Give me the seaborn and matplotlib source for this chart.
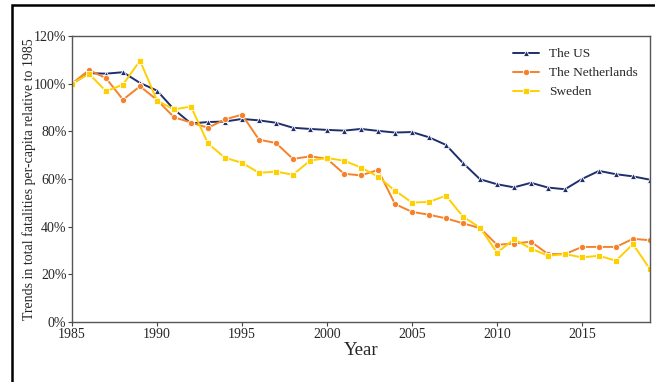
import matplotlib
matplotlib.use("Agg")
import matplotlib.pyplot as plt
from matplotlib.patches import Rectangle
from matplotlib.ticker import PercentFormatter
import numpy as np
import pandas as pd
import seaborn as sns

years = list(range(1985, 2020))

us = [100.0, 104.4, 104.2, 104.8, 100.3, 97.1, 89.2, 83.3, 83.9, 84.1,
      85.2, 84.6, 83.6, 81.5, 81.0, 80.6, 80.3, 81.0, 80.2, 79.5,
      79.7, 77.5, 74.3, 66.7, 59.9, 57.8, 56.5, 58.4, 56.4, 55.7,
      60.0, 63.4, 62.0, 61.1, 59.7]

netherlands = [100.0, 105.7, 102.3, 93.3, 98.9, 93.2, 85.9, 83.7, 81.5, 85.0,
               87.0, 76.5, 75.1, 68.4, 69.5, 68.5, 62.2, 61.5, 63.8, 49.5,
               46.2, 45.0, 43.5, 41.4, 39.4, 32.4, 32.9, 33.7, 28.5, 28.5,
               31.5, 31.5, 31.5, 34.9, 34.3]

sweden = [100.0, 104.2, 96.8, 99.6, 109.7, 92.9, 89.2, 90.4, 74.9, 68.9,
          66.8, 62.6, 63.1, 61.8, 67.7, 68.8, 67.7, 64.8, 61.0, 55.1,
          50.1, 50.4, 53.0, 44.2, 39.6, 29.1, 34.7, 30.8, 27.8, 28.5,
          27.1, 27.8, 25.7, 32.7, 22.1]

countries = ["The US", "The Netherlands", "Sweden"]
colors = ["#1f2f6b", "#f5822a", "#ffd000"]
markers = ["^", "o", "s"]

df = pd.DataFrame({
    "Year": years * 3,
    "Value": us + netherlands + sweden,
    "Country": np.repeat(countries, len(years)),
})

sns.set_style("ticks")
plt.rcParams["font.family"] = ["Liberation Serif", "DejaVu Serif"]

fig = plt.figure(figsize=(6.55, 3.82), dpi=100)
ax = fig.add_axes([72 / 655, 60 / 382, 578 / 655, 286 / 382])

sns.lineplot(
    data=df, x="Year", y="Value", hue="Country", style="Country",
    hue_order=countries, style_order=countries,
    palette=dict(zip(countries, colors)),
    markers=dict(zip(countries, markers)), dashes=False,
    markersize=4.5, markeredgewidth=0.6, linewidth=1.4, ax=ax,
)

ax.set_xlim(1985, 2019)
ax.set_ylim(0, 120)
ax.set_xticks(range(1985, 2020, 5))
ax.set_yticks(range(0, 121, 20))
ax.yaxis.set_major_formatter(PercentFormatter(decimals=0))
ax.tick_params(axis="both", labelsize=10, length=3, width=0.8,
               color="#444444", pad=1)

for side in ["left", "right", "top", "bottom"]:
    ax.spines[side].set_visible(True)
    ax.spines[side].set_color("#555555")
    ax.spines[side].set_linewidth(1.0)

ax.set_xlabel("Year", fontsize=13.5, labelpad=1)
ax.set_ylabel("Trends in total fatalities per-capita relative to 1985",
              fontsize=10)
ax.yaxis.set_label_coords(-0.063, 0.5)

leg = ax.legend(loc="upper right", bbox_to_anchor=(1.0, 1.0), frameon=False,
                fontsize=9.6, handlelength=2.0, labelspacing=0.5,
                handletextpad=0.75)

# outer frame around the figure
frame = Rectangle((12 / 655, -0.1), 1.2, 1.1 - 5 / 382,
                  transform=fig.transFigure, fill=False,
                  edgecolor="black", linewidth=1.8, clip_on=False)
fig.patches.append(frame)

fig.savefig("out.png", dpi=100)
